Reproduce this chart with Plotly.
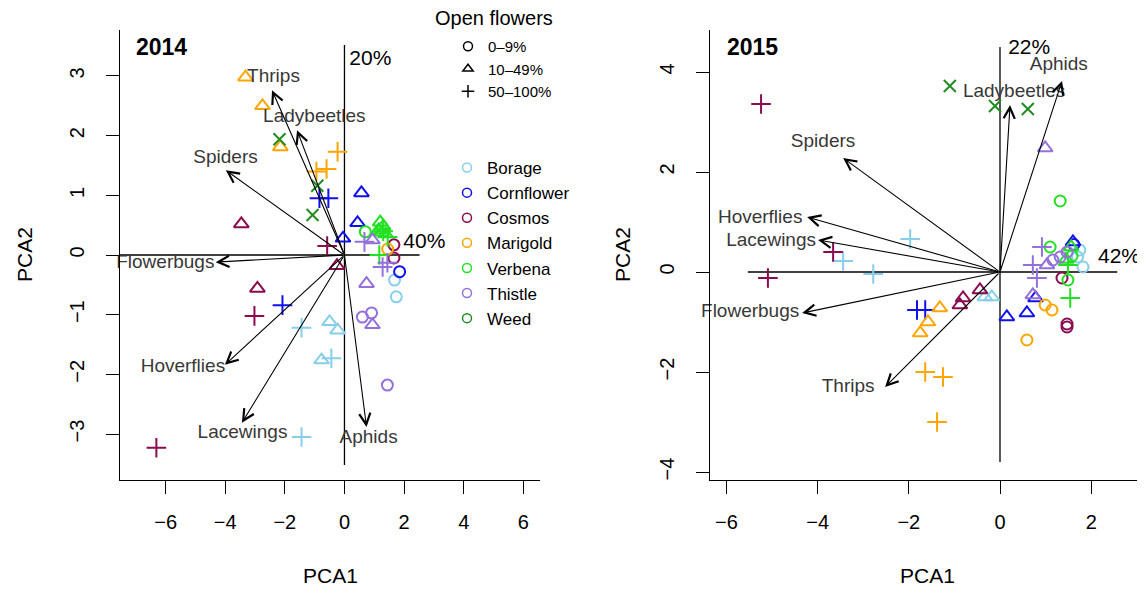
import plotly.graph_objects as go

# ---------------- data ----------------
species = ["Borage", "Cornflower", "Cosmos", "Marigold", "Verbena", "Thistle", "Weed"]
species_colors = ["#87CEEB", "#1010EE", "#8B0A50", "#FFA500", "#22E022", "#9370DB", "#228B22"]
stage_codes = ["o", "t", "+"]
stage_labels = ["0\u20139%", "10\u201349%", "50\u2013100%"]

# 2014 PCA scores: species, open-flower stage (o/t/+, x = weed), PC1, PC2
s14_species = (["Borage"] * 8 + ["Cornflower"] * 7 + ["Cosmos"] * 8 + ["Marigold"] * 7
               + ["Verbena"] * 9 + ["Thistle"] * 9 + ["Weed"] * 3)
s14_stage = ["o", "o", "t", "t", "t", "+", "+", "+",
             "+", "+", "+", "t", "t", "t", "o",
             "t", "t", "t", "+", "+", "+", "o", "o",
             "t", "t", "t", "+", "+", "+", "o",
             "t", "t", "t", "t", "t", "+", "+", "+", "o",
             "+", "+", "+", "t", "t", "t", "o", "o", "o",
             "x", "x", "x"]
s14_pc1 = [1.68, 1.74, -0.50, -0.23, -0.77, -1.44, -0.44, -1.44,
           -0.84, -0.54, -2.08, 0.57, 0.44, -0.05, 1.85,
           -3.46, -0.25, -2.92, -0.58, -3.02, -6.31, 1.66, 1.66,
           -3.32, -2.75, -2.15, -0.23, -0.60, -0.94, 1.45,
           1.20, 1.30, 1.25, 1.38, 1.15, 1.30, 1.45, 1.17, 0.70,
           0.67, 1.28, 1.44, 0.94, 0.74, 0.94, 0.60, 0.91, 1.44,
           -2.18, -0.91, -1.07]
s14_pc2 = [-0.42, -0.70, -1.12, -1.26, -1.76, -1.22, -1.73, -3.05,
           0.95, 0.95, -0.84, 1.04, 0.54, 0.28, -0.28,
           0.52, -0.18, -0.56, 0.15, -1.02, -3.23, 0.17, -0.05,
           2.98, 2.50, 1.81, 1.73, 1.44, 1.40, 0.10,
           0.55, 0.48, 0.38, 0.35, 0.42, 0.40, 0.30, 0.00, 0.39,
           0.22, -0.20, -0.13, 0.25, -0.48, -1.17, -1.04, -0.97, -2.18,
           1.94, 1.16, 0.67]

# 2015 PCA scores
s15_species = (["Borage"] * 8 + ["Cornflower"] * 7 + ["Cosmos"] * 9 + ["Marigold"] * 9
               + ["Verbena"] * 8 + ["Thistle"] * 9 + ["Weed"] * 3)
s15_stage = ["+", "+", "+", "t", "t", "o", "o", "o",
             "+", "+", "t", "t", "t", "t", "o",
             "+", "+", "+", "t", "t", "t", "o", "o", "o",
             "t", "t", "t", "+", "+", "+", "o", "o", "o",
             "o", "o", "o", "o", "t", "t", "+", "+",
             "t", "t", "t", "+", "+", "+", "o", "o", "o",
             "x", "x", "x"]
s15_pc1 = [-1.97, -3.44, -2.78, -0.33, -0.18, 1.75, 1.82, 1.70,
           -1.82, -1.64, 0.15, 0.59, 1.60, 0.78, 1.62,
           -5.24, -3.66, -5.09, -0.44, -0.81, -0.88, 1.36, 1.47, 1.47,
           -1.32, -1.58, -1.75, -1.64, -1.25, -1.38, 0.99, 1.14, 0.59,
           1.32, 1.10, 1.49, 1.58, 1.56, 1.45, 1.49, 1.54,
           0.99, 1.03, 0.72, 0.92, 0.72, 0.81, 1.16, 1.32, 1.47,
           -1.10, -0.11, 0.61]
s15_pc2 = [0.66, 0.22, -0.04, -0.50, -0.50, 0.44, 0.10, 0.30,
           -0.76, -0.76, -0.90, -0.82, 0.60, -0.52, 0.55,
           3.36, 0.40, -0.12, -0.36, -0.52, -0.66, -0.12, -1.10, -1.04,
           -0.72, -1.00, -1.22, -2.00, -2.10, -3.00, -0.66, -0.76, -1.36,
           1.42, 0.50, -0.16, 0.32, 0.50, 0.25, 0.14, -0.52,
           2.48, 0.14, -0.46, 0.50, 0.14, -0.12, 0.24, 0.30, 0.40,
           3.72, 3.32, 3.26]

# loadings (arrow tips) and label anchors
variables = ["Thrips", "Ladybeetles", "Spiders", "Flowerbugs", "Hoverflies", "Lacewings", "Aphids"]
load14_pc1 = [-2.43, -1.59, -3.98, -4.32, -4.01, -3.44, 0.74]
load14_pc2 = [2.76, 2.09, 1.42, -0.12, -1.84, -2.81, -2.88]
lab14_pc1 = [-2.38, -1.01, -3.99, -6.01, -5.42, -3.42, 0.81]
lab14_pc2 = [2.98, 2.31, 1.62, -0.13, -1.88, -2.98, -3.07]
load15_pc1 = [-2.52, 0.22, -3.44, -4.34, -4.23, -3.99, 1.36]
load15_pc2 = [-2.30, 3.34, 2.28, -0.82, 1.10, 0.64, 3.82]
lab15_pc1 = [-3.33, 0.31, -3.88, -5.48, -5.26, -5.02, 1.29]
lab15_pc2 = [-2.30, 3.60, 2.60, -0.80, 1.08, 0.62, 4.13]

# explained variance labels (PC1, PC2) and their anchors
var14 = ["40%", "20%"]
var14_pc1 = [2.68, 0.87]
var14_pc2 = [0.20, 3.27]
var15 = ["42%", "22%"]
var15_pc1 = [2.61, 0.64]
var15_pc2 = [0.28, 4.47]

# extents of the PC reference lines: [pc1 min, pc1 max, pc2 min, pc2 max]
ref14 = [-7.55, 2.52, -3.52, 3.52]
ref15 = [-5.53, 2.57, -3.80, 4.50]

years = ["2014", "2015"]

# ---------------- figure ----------------
FONT = "Liberation Sans, Arial, Helvetica, sans-serif"
PAGE_OFF = 8                      # default body margin of the html page
W, H = 1145 - PAGE_OFF, 590 - PAGE_OFF
symbol_map = {"o": "circle-open", "t": "triangle-up-open", "+": "cross-thin-open", "x": "x-thin-open"}
size_map = {"o": 11, "t": 13, "+": 14, "x": 12}


def px_x(p):
    return (p - PAGE_OFF) / W


def px_y(p):
    return 1 - (p - PAGE_OFF) / H


fig = go.Figure()

panels = [
    dict(xa="x", ya="y", sp=s14_species, st=s14_stage, p1=s14_pc1, p2=s14_pc2,
         l1=load14_pc1, l2=load14_pc2, t1=lab14_pc1, t2=lab14_pc2,
         vv=var14, v1=var14_pc1, v2=var14_pc2, ref=ref14),
    dict(xa="x2", ya="y2", sp=s15_species, st=s15_stage, p1=s15_pc1, p2=s15_pc2,
         l1=load15_pc1, l2=load15_pc2, t1=lab15_pc1, t2=lab15_pc2,
         vv=var15, v1=var15_pc1, v2=var15_pc2, ref=ref15),
]

annotations = []
for P in panels:
    xa, ya = P["xa"], P["ya"]
    r = P["ref"]
    # PC reference lines
    fig.add_trace(go.Scatter(x=[r[0], r[1]], y=[0, 0], mode="lines", xaxis=xa, yaxis=ya,
                             line=dict(color="black", width=1.3), showlegend=False, hoverinfo="skip"))
    fig.add_trace(go.Scatter(x=[0, 0], y=[r[2], r[3]], mode="lines", xaxis=xa, yaxis=ya,
                             line=dict(color="black", width=1.3), showlegend=False, hoverinfo="skip"))
    # points
    for sname, col in zip(species, species_colors):
        for code in ["o", "t", "+", "x"]:
            xs = [a for a, s, c in zip(P["p1"], P["sp"], P["st"]) if s == sname and c == code]
            ys = [b for b, s, c in zip(P["p2"], P["sp"], P["st"]) if s == sname and c == code]
            if not xs:
                continue
            fig.add_trace(go.Scatter(
                x=xs, y=ys, mode="markers", xaxis=xa, yaxis=ya, showlegend=False,
                marker=dict(symbol=symbol_map[code], size=size_map[code], color=col,
                            line=dict(color=col, width=2)),
                cliponaxis=False, name=sname))
    # arrow labels
    fig.add_trace(go.Scatter(x=P["t1"], y=P["t2"], text=variables, mode="text", xaxis=xa, yaxis=ya,
                             textposition="middle center", cliponaxis=False, showlegend=False,
                             textfont=dict(family=FONT, size=19, color="#383838"), hoverinfo="skip"))
    # variance labels
    fig.add_trace(go.Scatter(x=P["v1"], y=P["v2"], text=P["vv"], mode="text", xaxis=xa, yaxis=ya,
                             textposition="middle center", cliponaxis=False, showlegend=False,
                             textfont=dict(family=FONT, size=21, color="black"), hoverinfo="skip"))
    # arrows
    for x1, y1 in zip(P["l1"], P["l2"]):
        annotations.append(dict(x=x1, y=y1, ax=0, ay=0, xref=xa, yref=ya, axref=xa, ayref=ya,
                                text="", showarrow=True, arrowhead=5, arrowsize=2.0,
                                arrowwidth=1.1, arrowcolor="black", standoff=0))

# legend entries
for code, lab in zip(stage_codes, stage_labels):
    fig.add_trace(go.Scatter(x=[None], y=[None], mode="markers", name=lab, legend="legend",
                             marker=dict(symbol=symbol_map[code], size=9, color="black",
                                         line=dict(color="black", width=1.5))))
for sname, col in zip(species, species_colors):
    fig.add_trace(go.Scatter(x=[None], y=[None], mode="markers", name=sname, legend="legend2",
                             marker=dict(symbol="circle-open", size=9, color=col,
                                         line=dict(color=col, width=1.5))))


def paper_text(text, cx, cy, size, bold=False, angle=0):
    return dict(x=px_x(cx), y=px_y(cy), xref="paper", yref="paper", xanchor="center",
                yanchor="middle", text=("<b>%s</b>" % text) if bold else text, textangle=angle,
                showarrow=False, font=dict(family=FONT, size=size, color="black"))


for yr, cx in zip(years, [161, 752]):
    annotations.append(paper_text(yr, cx, 47, 23, bold=True))
for cx in [330, 927]:
    annotations.append(paper_text("PCA1", cx, 575, 21))
for cx in [24, 622]:
    annotations.append(paper_text("PCA2", cx, 255, 21, angle=-90))
annotations.append(paper_text("Open flowers", 494, 18, 20))

axis_common = dict(showline=True, linecolor="black", linewidth=1.4, ticks="outside", ticklen=13,
                   tickwidth=1.4, tickcolor="black", showgrid=False, zeroline=False,
                   tickfont=dict(family=FONT, size=20, color="black"))

fig.update_layout(
    width=W, height=H,
    margin=dict(l=0, r=0, t=0, b=0),
    paper_bgcolor="white", plot_bgcolor="white",
    font=dict(family=FONT, color="black"),
    showlegend=True,
    xaxis=dict(domain=[px_x(120), px_x(540)], range=[-7.53, 6.56], tickvals=[-6, -4, -2, 0, 2, 4, 6],
               anchor="y", ticklabelstandoff=11, **axis_common),
    yaxis=dict(domain=[px_y(480), px_y(30)], range=[-3.77, 3.77], tickvals=[-3, -2, -1, 0, 1, 2, 3],
               anchor="x", tickangle=-90, ticklabelstandoff=14, **axis_common),
    xaxis2=dict(domain=[px_x(710), 1.0], range=[-6.36, 3.18], tickvals=[-6, -4, -2, 0, 2],
                anchor="y2", ticklabelstandoff=11, **axis_common),
    yaxis2=dict(domain=[px_y(480), px_y(30)], range=[-4.16, 4.84], tickvals=[-4, -2, 0, 2, 4],
                anchor="x2", tickangle=-90, ticklabelstandoff=14, **axis_common),
    legend=dict(x=px_x(448), y=px_y(30), xanchor="left", yanchor="top", bgcolor="rgba(0,0,0,0)",
                font=dict(family=FONT, size=15, color="black"), itemclick=False),
    legend2=dict(x=px_x(447), y=px_y(150), xanchor="left", yanchor="top", bgcolor="rgba(0,0,0,0)",
                 font=dict(family=FONT, size=17, color="black"), itemclick=False),
    annotations=annotations,
)

fig.write_html("out.html")
